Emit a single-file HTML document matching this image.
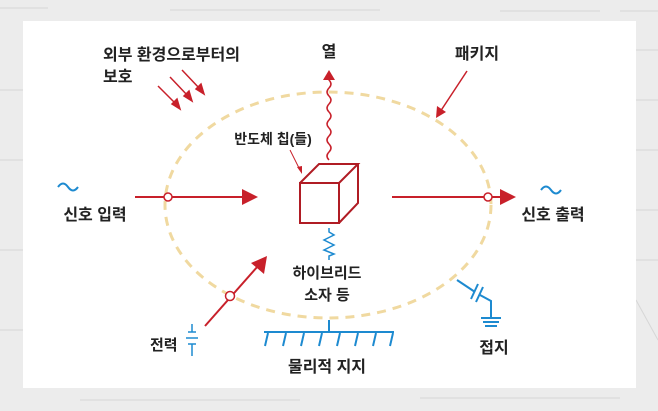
<!DOCTYPE html>
<html><head><meta charset="utf-8"><style>
html,body{margin:0;padding:0;}
body{width:658px;height:411px;background:#ececec;overflow:hidden;position:relative;font-family:"Liberation Sans","Noto Sans CJK KR",sans-serif;}
svg{position:absolute;left:0;top:0;}
text{font-family:"Liberation Sans","Noto Sans CJK KR",sans-serif;font-weight:bold;fill:#222;}
</style></head><body>
<svg width="658" height="411" viewBox="0 0 658 411">
<g stroke="#d6d6d6" stroke-width="1" fill="none">
<line x1="0" y1="8" x2="48" y2="8"/><line x1="170" y1="10" x2="380" y2="10"/>
<line x1="500" y1="11" x2="600" y2="11"/><line x1="620" y1="11" x2="658" y2="11"/>
<line x1="636" y1="50" x2="658" y2="50"/><line x1="636" y1="100" x2="658" y2="100"/>
<line x1="636" y1="150" x2="658" y2="150"/><line x1="636" y1="210" x2="658" y2="210"/>
<line x1="636" y1="260" x2="658" y2="260"/><line x1="0" y1="90" x2="23" y2="90"/>
<line x1="0" y1="160" x2="23" y2="160"/><line x1="0" y1="250" x2="23" y2="250"/>
<line x1="0" y1="330" x2="23" y2="330"/><line x1="80" y1="400" x2="300" y2="400"/>
<line x1="420" y1="398" x2="620" y2="398"/><line x1="636" y1="300" x2="658" y2="340"/>
</g>
<rect x="23" y="21" width="613" height="367" fill="#fff"/>
<ellipse cx="328" cy="205" rx="163" ry="113" fill="none" stroke="#f0d9a0" stroke-width="3" stroke-dasharray="9,7"/>
<text x="103" y="60" font-size="16">외부 환경으로부터의</text>
<text x="103" y="82" font-size="16">보호</text>
<g stroke="#c8202a" stroke-width="1.5" fill="#c8202a">
<line x1="158" y1="86" x2="176" y2="104"/><polygon points="180,109 172,104 177,99"/>
<line x1="170" y1="77" x2="188" y2="96"/><polygon points="192,101 184,96 189,91"/>
<line x1="182" y1="70" x2="200" y2="89"/><polygon points="204,94 196,89 201,84"/>
</g>
<text x="329" y="57" font-size="16" text-anchor="middle">열</text>
<path d="M329,160 q-4,-4 0,-8 q4,-4 0,-8 q-4,-4 0,-8 q4,-4 0,-8 q-4,-4 0,-8 q4,-4 0,-8 q-4,-4 0,-8 q4,-4 0,-8 q-4,-4 0,-8 q4,-4 0,-8 l0,-3" fill="none" stroke="#c8202a" stroke-width="1.5"/>
<polygon points="329,70 323,80 335,80" fill="#c8202a"/>
<text x="477" y="59" font-size="16" text-anchor="middle">패키지</text>
<line x1="467" y1="71" x2="440" y2="112" stroke="#c8202a" stroke-width="1.5"/>
<polygon points="436,118 437,106 446,112" fill="#c8202a"/>
<text x="273" y="144" font-size="14" text-anchor="middle">반도체 칩(들)</text>
<line x1="290" y1="150" x2="300" y2="170" stroke="#c8202a" stroke-width="1"/>
<polygon points="302,174 297,167 302,166" fill="#c8202a"/>
<g fill="none" stroke="#b01c24" stroke-width="2">
<rect x="300" y="183" width="39" height="40" fill="#fff"/>
<polyline points="300,183 319,164 358,164 339,183"/>
<polyline points="358,164 358,203 339,223"/>
</g>
<path d="M58,187 q5,-7 10,0 q5,7 10,0" fill="none" stroke="#1d8ad0" stroke-width="2"/>
<text x="95" y="220" font-size="16" text-anchor="middle">신호 입력</text>
<line x1="135" y1="197" x2="244" y2="197" stroke="#c8202a" stroke-width="2"/>
<polygon points="258,197 242,189 242,205" fill="#c8202a"/>
<circle cx="168" cy="197" r="4" fill="#fff" stroke="#c8202a" stroke-width="1.5"/>
<line x1="392" y1="197" x2="502" y2="197" stroke="#c8202a" stroke-width="2"/>
<polygon points="516,197 500,189 500,205" fill="#c8202a"/>
<circle cx="488" cy="197" r="4" fill="#fff" stroke="#c8202a" stroke-width="1.5"/>
<path d="M541,190 q5,-7 10,0 q5,7 10,0" fill="none" stroke="#1d8ad0" stroke-width="2"/>
<text x="553" y="220" font-size="16" text-anchor="middle">신호 출력</text>
<polyline points="329,228 329,232 334,235 324,240 334,245 324,250 334,254 329,256 329,260" fill="none" stroke="#1d8ad0" stroke-width="1.5"/>
<text x="327" y="278" font-size="15" text-anchor="middle">하이브리드</text>
<text x="327" y="300" font-size="15" text-anchor="middle">소자 등</text>
<line x1="205" y1="326" x2="258" y2="266" stroke="#c8202a" stroke-width="2"/>
<polygon points="267,256 264,274 251,263" fill="#c8202a"/>
<circle cx="230" cy="296" r="4.5" fill="#fff" stroke="#c8202a" stroke-width="1.5"/>
<text x="150" y="350" font-size="15">전력</text>
<g stroke="#1d8ad0" stroke-width="1.5">
<line x1="192" y1="324" x2="192" y2="332"/><line x1="188" y1="332" x2="196" y2="332"/>
<line x1="186" y1="338" x2="198" y2="338"/><line x1="188" y1="344" x2="196" y2="344"/>
<line x1="192" y1="344" x2="192" y2="356"/>
</g>
<g stroke="#1d8ad0" stroke-width="2" fill="none">
<line x1="264" y1="332" x2="394" y2="332"/><line x1="329" y1="320" x2="329" y2="332"/>
<line x1="268" y1="333" x2="265" y2="346"/><line x1="286" y1="333" x2="283" y2="346"/>
<line x1="304" y1="333" x2="301" y2="346"/><line x1="322" y1="333" x2="319" y2="346"/>
<line x1="340" y1="333" x2="337" y2="346"/><line x1="358" y1="333" x2="355" y2="346"/>
<line x1="376" y1="333" x2="373" y2="346"/><line x1="393" y1="333" x2="390" y2="346"/>
</g>
<text x="327" y="372" font-size="16" text-anchor="middle">물리적 지지</text>
<g stroke="#1d8ad0" stroke-width="2" fill="none">
<line x1="457" y1="280" x2="475" y2="292"/><line x1="478" y1="284" x2="471" y2="299"/>
<line x1="483" y1="287" x2="476" y2="302"/><polyline points="480,295 491,301 491,318"/>
<line x1="481" y1="318" x2="501" y2="318"/><line x1="483" y1="322" x2="499" y2="322"/>
<line x1="485" y1="326" x2="497" y2="326"/>
</g>
<text x="494" y="353" font-size="16" text-anchor="middle">접지</text>
</svg>
</body></html>
